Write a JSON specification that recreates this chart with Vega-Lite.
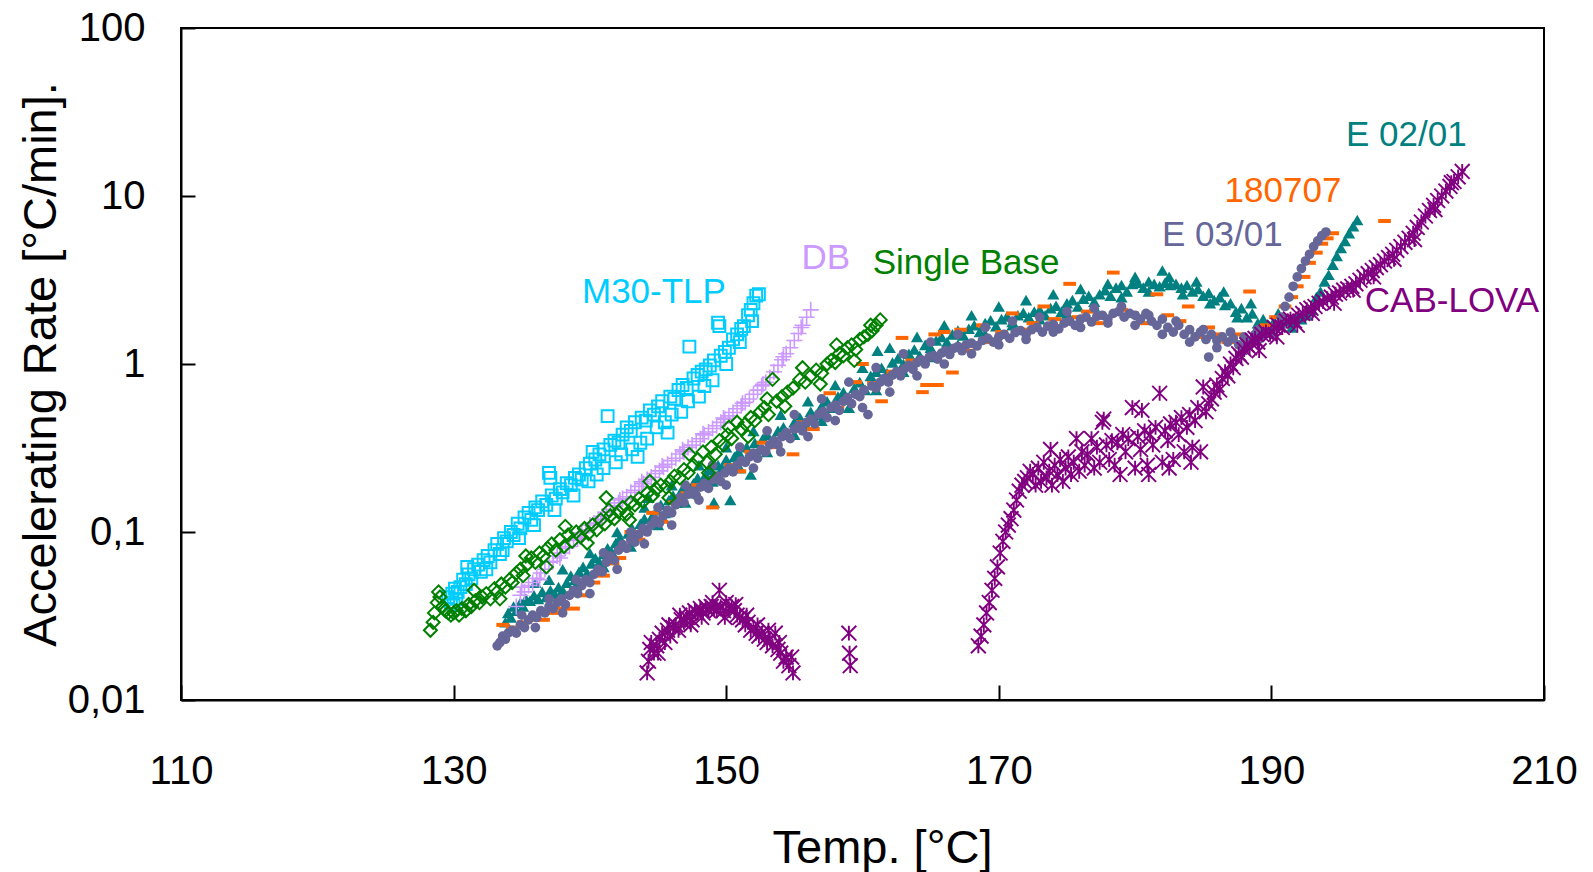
{
  "$schema": "https://vega.github.io/schema/vega-lite/v6.json",
  "width": 1363,
  "height": 672,
  "autosize": {"type": "none"},
  "padding": {"left": 181, "top": 28, "right": 49, "bottom": 172},
  "background": "white",
  "config": {
    "view": {"stroke": "black", "strokeWidth": 2},
    "font": "Liberation Sans",
    "axis": {"domainColor": "black", "domainWidth": 2, "tickColor": "black", "tickWidth": 2, "grid": false, "labelColor": "black", "titleColor": "black", "labelFont": "Liberation Sans", "titleFont": "Liberation Sans", "titleFontWeight": "normal"}
  },
  "datasets": {
    "m30": [
      {"t":129.6,"v":0.041},{"t":129.8,"v":0.038},{"t":130.0,"v":0.037},{"t":130.2,"v":0.040},{"t":130.3,"v":0.044},{"t":130.1,"v":0.046},{"t":129.9,"v":0.043},{"t":130.5,"v":0.047},{"t":130.7,"v":0.052},{"t":130.9,"v":0.049},{"t":131.1,"v":0.056},{"t":131.3,"v":0.053},{"t":131.5,"v":0.060},{"t":131.8,"v":0.064},{"t":132.0,"v":0.058},{"t":132.2,"v":0.068},{"t":132.5,"v":0.072},{"t":132.7,"v":0.066},{"t":133.0,"v":0.078},{"t":133.2,"v":0.085},{"t":133.4,"v":0.074},{"t":133.7,"v":0.092},{"t":133.9,"v":0.088},{"t":134.2,"v":0.100},{"t":134.4,"v":0.096},{"t":134.7,"v":0.112},{"t":134.9,"v":0.105},{"t":135.2,"v":0.122},{"t":135.5,"v":0.130},{"t":135.7,"v":0.118},{"t":136.0,"v":0.140},{"t":136.2,"v":0.135},{"t":136.5,"v":0.152},{"t":136.8,"v":0.145},{"t":137.0,"v":0.225},{"t":137.1,"v":0.210},{"t":137.2,"v":0.165},{"t":137.5,"v":0.158},{"t":137.8,"v":0.180},{"t":138.0,"v":0.172},{"t":138.3,"v":0.195},{"t":138.6,"v":0.190},{"t":138.9,"v":0.210},{"t":139.2,"v":0.220},{"t":139.4,"v":0.205},{"t":139.7,"v":0.240},{"t":140.0,"v":0.255},{"t":140.2,"v":0.300},{"t":140.4,"v":0.270},{"t":140.5,"v":0.220},{"t":140.7,"v":0.290},{"t":141.0,"v":0.310},{"t":141.3,"v":0.490},{"t":141.5,"v":0.330},{"t":141.8,"v":0.350},{"t":141.9,"v":0.260},{"t":142.1,"v":0.340},{"t":142.4,"v":0.380},{"t":142.7,"v":0.420},{"t":143.0,"v":0.400},{"t":143.1,"v":0.310},{"t":143.3,"v":0.450},{"t":143.5,"v":0.280},{"t":143.8,"v":0.480},{"t":144.1,"v":0.460},{"t":144.2,"v":0.360},{"t":144.4,"v":0.530},{"t":144.7,"v":0.500},{"t":145.0,"v":0.560},{"t":145.3,"v":0.600},{"t":145.5,"v":0.450},{"t":145.7,"v":0.390},{"t":145.9,"v":0.640},{"t":146.2,"v":0.620},{"t":146.5,"v":0.700},{"t":146.7,"v":0.520},{"t":146.8,"v":0.750},{"t":147.1,"v":0.720},{"t":147.3,"v":1.270},{"t":147.6,"v":0.820},{"t":147.9,"v":0.860},{"t":148.0,"v":0.640},{"t":148.2,"v":0.900},{"t":148.5,"v":0.930},{"t":148.8,"v":0.980},{"t":149.0,"v":0.800},{"t":149.1,"v":1.050},{"t":149.4,"v":1.760},{"t":149.5,"v":1.680},{"t":149.6,"v":1.120},{"t":149.9,"v":1.180},{"t":150.2,"v":1.250},{"t":150.5,"v":1.400},{"t":150.8,"v":1.500},{"t":151.1,"v":1.620},{"t":151.3,"v":1.680},{"t":151.6,"v":1.950},{"t":151.8,"v":2.100},{"t":152.0,"v":2.300},{"t":152.2,"v":2.550},{"t":152.4,"v":2.600},
      {"t":131.0,"v":0.062},{"t":132.4,"v":0.060},{"t":133.6,"v":0.078},{"t":134.8,"v":0.092},{"t":135.9,"v":0.110},{"t":137.4,"v":0.135},{"t":138.8,"v":0.165},{"t":139.9,"v":0.200},{"t":141.0,"v":0.240},{"t":142.3,"v":0.290},{"t":143.7,"v":0.340},{"t":144.9,"v":0.420},{"t":146.0,"v":0.500},{"t":147.2,"v":0.600},{"t":148.4,"v":0.740},{"t":150.0,"v":1.000},{"t":151.0,"v":1.350},{"t":151.9,"v":1.800}
    ],
    "db": [
      {"t":134.6,"v":0.036},{"t":134.9,"v":0.042},{"t":135.2,"v":0.044},{"t":135.5,"v":0.048},{"t":135.8,"v":0.050},{"t":136.1,"v":0.053},{"t":136.4,"v":0.057},{"t":136.7,"v":0.060},{"t":137.0,"v":0.066},{"t":137.3,"v":0.067},{"t":137.6,"v":0.072},{"t":137.9,"v":0.075},{"t":138.2,"v":0.080},{"t":138.5,"v":0.082},{"t":138.8,"v":0.089},{"t":139.1,"v":0.091},{"t":139.4,"v":0.099},{"t":139.7,"v":0.103},{"t":140.0,"v":0.110},{"t":140.3,"v":0.113},{"t":140.6,"v":0.119},{"t":140.9,"v":0.124},{"t":141.2,"v":0.131},{"t":141.5,"v":0.136},{"t":141.8,"v":0.143},{"t":142.1,"v":0.149},{"t":142.4,"v":0.158},{"t":142.7,"v":0.162},{"t":143.0,"v":0.172},{"t":143.3,"v":0.177},{"t":143.6,"v":0.187},{"t":143.9,"v":0.194},{"t":144.2,"v":0.205},{"t":144.5,"v":0.212},{"t":144.8,"v":0.223},{"t":145.1,"v":0.231},{"t":145.4,"v":0.243},{"t":145.7,"v":0.253},{"t":146.0,"v":0.266},{"t":146.3,"v":0.275},{"t":146.6,"v":0.291},{"t":146.9,"v":0.301},{"t":147.2,"v":0.319},{"t":147.5,"v":0.329},{"t":147.8,"v":0.346},{"t":148.1,"v":0.359},{"t":148.4,"v":0.378},{"t":148.7,"v":0.394},{"t":149.0,"v":0.413},{"t":149.3,"v":0.429},{"t":149.6,"v":0.449},{"t":149.9,"v":0.469},{"t":150.2,"v":0.491},{"t":150.5,"v":0.514},{"t":150.8,"v":0.541},{"t":151.1,"v":0.564},{"t":151.4,"v":0.591},{"t":151.7,"v":0.619},{"t":152.0,"v":0.661},{"t":152.3,"v":0.699},{"t":152.6,"v":0.741},{"t":152.9,"v":0.779},{"t":153.2,"v":0.831},{"t":153.5,"v":0.899},{"t":153.8,"v":0.981},{"t":154.1,"v":1.059},{"t":154.4,"v":1.151},{"t":154.7,"v":1.249},{"t":155.0,"v":1.381},{"t":155.3,"v":1.519},{"t":155.6,"v":1.701},{"t":155.9,"v":1.899},{"t":156.2,"v":2.100},
      {"t":135.0,"v":0.047},{"t":136.3,"v":0.052},{"t":137.8,"v":0.070},{"t":139.3,"v":0.093},{"t":140.8,"v":0.118},{"t":142.2,"v":0.155},{"t":143.8,"v":0.199},{"t":145.3,"v":0.247},{"t":146.8,"v":0.308},{"t":148.3,"v":0.384},{"t":149.8,"v":0.476},{"t":151.2,"v":0.584},{"t":152.7,"v":0.758},{"t":154.2,"v":1.105},{"t":155.5,"v":1.650}
    ],
    "sb": [
      {"t":128.3,"v":0.026},{"t":128.5,"v":0.029},{"t":128.6,"v":0.033},{"t":128.8,"v":0.038},{"t":128.9,"v":0.044},{"t":129.0,"v":0.041},{"t":129.2,"v":0.036},{"t":129.4,"v":0.034},{"t":129.6,"v":0.033},{"t":129.8,"v":0.032},{"t":130.0,"v":0.033},{"t":130.2,"v":0.034},{"t":130.4,"v":0.032},{"t":130.6,"v":0.035},{"t":130.9,"v":0.034},{"t":131.1,"v":0.037},{"t":131.3,"v":0.036},{"t":131.6,"v":0.039},{"t":131.9,"v":0.038},{"t":132.1,"v":0.041},{"t":132.4,"v":0.043},{"t":132.7,"v":0.040},{"t":133.0,"v":0.046},{"t":133.2,"v":0.044},{"t":133.5,"v":0.049},{"t":133.8,"v":0.047},{"t":134.1,"v":0.052},{"t":134.3,"v":0.050},{"t":134.6,"v":0.057},{"t":134.9,"v":0.060},{"t":135.1,"v":0.055},{"t":135.4,"v":0.064},{"t":135.7,"v":0.070},{"t":136.0,"v":0.066},{"t":136.3,"v":0.075},{"t":136.6,"v":0.072},{"t":136.9,"v":0.080},{"t":137.2,"v":0.085},{"t":137.5,"v":0.078},{"t":137.8,"v":0.090},{"t":138.1,"v":0.082},{"t":138.4,"v":0.096},{"t":138.7,"v":0.088},{"t":139.0,"v":0.100},{"t":139.3,"v":0.094},{"t":139.6,"v":0.105},{"t":139.9,"v":0.098},{"t":140.2,"v":0.110},{"t":140.5,"v":0.103},{"t":140.8,"v":0.118},{"t":141.1,"v":0.112},{"t":141.2,"v":0.160},{"t":141.5,"v":0.125},{"t":141.8,"v":0.120},{"t":142.1,"v":0.132},{"t":142.4,"v":0.140},{"t":142.7,"v":0.128},{"t":143.0,"v":0.150},{"t":143.3,"v":0.145},{"t":143.6,"v":0.158},{"t":143.9,"v":0.152},{"t":144.2,"v":0.170},{"t":144.6,"v":0.165},{"t":144.9,"v":0.180},{"t":145.2,"v":0.190},{"t":145.6,"v":0.185},{"t":145.9,"v":0.200},{"t":146.2,"v":0.215},{"t":146.6,"v":0.210},{"t":146.9,"v":0.235},{"t":147.2,"v":0.225},{"t":147.6,"v":0.250},{"t":147.9,"v":0.270},{"t":148.3,"v":0.300},{"t":148.6,"v":0.260},{"t":148.9,"v":0.320},{"t":149.2,"v":0.290},{"t":149.5,"v":0.350},{"t":149.8,"v":0.330},{"t":150.1,"v":0.380},{"t":150.4,"v":0.360},{"t":150.8,"v":0.450},{"t":151.1,"v":0.410},{"t":151.4,"v":0.440},{"t":151.8,"v":0.480},{"t":152.1,"v":0.460},{"t":152.5,"v":0.520},{"t":152.8,"v":0.550},{"t":153.1,"v":0.500},{"t":153.4,"v":0.810},{"t":153.7,"v":0.600},{"t":154.1,"v":0.640},{"t":154.5,"v":0.680},{"t":154.9,"v":0.720},{"t":155.4,"v":0.810},{"t":155.8,"v":0.780},{"t":156.2,"v":0.850},{"t":156.6,"v":0.920},{"t":157.0,"v":0.880},{"t":157.4,"v":1.000},{"t":157.7,"v":1.050},{"t":158.0,"v":1.020},{"t":158.3,"v":1.150},{"t":158.6,"v":1.120},{"t":158.9,"v":1.250},{"t":159.2,"v":1.300},{"t":159.5,"v":1.220},{"t":159.8,"v":1.400},{"t":160.1,"v":1.450},{"t":160.4,"v":1.500},{"t":160.7,"v":1.580},{"t":161.0,"v":1.700},{"t":161.3,"v":1.830},
      {"t":131.5,"v":0.045},{"t":133.4,"v":0.040},{"t":135.3,"v":0.072},{"t":136.8,"v":0.062},{"t":138.2,"v":0.108},{"t":139.8,"v":0.086},{"t":141.4,"v":0.135},{"t":142.9,"v":0.118},{"t":144.4,"v":0.200},{"t":145.8,"v":0.160},{"t":147.3,"v":0.290},{"t":148.7,"v":0.225},{"t":150.2,"v":0.420},{"t":151.6,"v":0.370},{"t":153.0,"v":0.620},{"t":154.3,"v":0.560},{"t":155.6,"v":0.950},{"t":156.9,"v":0.760},{"t":158.1,"v":1.300},{"t":159.4,"v":1.050},{"t":160.6,"v":1.700}
    ],
    "e0201": [
      {"t":133.8,"v":0.029},{"t":134.0,"v":0.033},{"t":134.2,"v":0.031},{"t":134.4,"v":0.036},{"t":134.6,"v":0.034},{"t":134.9,"v":0.038},{"t":135.1,"v":0.036},{"t":135.3,"v":0.040},{"t":135.6,"v":0.039},{"t":135.9,"v":0.042},{"t":136.2,"v":0.040},{"t":136.5,"v":0.044},{"t":136.8,"v":0.041},{"t":137.1,"v":0.045},{"t":137.4,"v":0.043},{"t":137.7,"v":0.047},{"t":138.0,"v":0.045},{"t":138.3,"v":0.050},{"t":138.6,"v":0.055},{"t":138.9,"v":0.052},{"t":139.2,"v":0.058},{"t":139.5,"v":0.062},{"t":139.8,"v":0.057},{"t":140.1,"v":0.065},{"t":140.4,"v":0.070},{"t":140.7,"v":0.066},{"t":141.0,"v":0.074},{"t":141.3,"v":0.080},{"t":141.6,"v":0.076},{"t":141.9,"v":0.086},{"t":142.2,"v":0.092},{"t":142.5,"v":0.083},{"t":142.8,"v":0.098},{"t":143.1,"v":0.105},{"t":143.4,"v":0.095},{"t":143.7,"v":0.112},{"t":144.0,"v":0.120},{"t":144.3,"v":0.160},{"t":144.6,"v":0.125},{"t":144.9,"v":0.135},{"t":145.2,"v":0.145},{"t":145.5,"v":0.130},{"t":145.8,"v":0.155},{"t":146.1,"v":0.165},{"t":146.4,"v":0.150},{"t":146.7,"v":0.175},{"t":147.0,"v":0.185},{"t":147.3,"v":0.170},{"t":147.6,"v":0.195},{"t":147.9,"v":0.210},{"t":148.2,"v":0.190},{"t":148.5,"v":0.220},{"t":148.8,"v":0.235},{"t":149.1,"v":0.150},{"t":149.4,"v":0.250},{"t":149.7,"v":0.240},{"t":150.0,"v":0.270},{"t":150.3,"v":0.155},{"t":150.6,"v":0.280},{"t":150.9,"v":0.300},{"t":151.2,"v":0.270},{"t":151.5,"v":0.320},{"t":151.8,"v":0.220},{"t":152.1,"v":0.340},{"t":152.4,"v":0.310},{"t":152.7,"v":0.360},{"t":153.0,"v":0.380},{"t":153.4,"v":0.340},{"t":153.8,"v":0.400},{"t":154.2,"v":0.420},{"t":154.6,"v":0.380},{"t":155.0,"v":0.450},{"t":155.4,"v":0.480},{"t":155.8,"v":0.440},{"t":156.2,"v":0.520},{"t":156.6,"v":0.500},{"t":157.0,"v":0.560},{"t":157.4,"v":0.600},{"t":157.8,"v":0.550},{"t":158.2,"v":0.640},{"t":158.6,"v":0.680},{"t":159.0,"v":0.620},{"t":159.4,"v":0.720},{"t":159.8,"v":0.780},{"t":160.2,"v":0.700},{"t":160.6,"v":0.850},{"t":161.0,"v":0.900},{"t":161.1,"v":1.200},{"t":161.4,"v":0.950},{"t":161.8,"v":0.880},{"t":162.2,"v":1.020},{"t":162.6,"v":1.080},{"t":163.0,"v":1.000},{"t":163.4,"v":1.150},{"t":163.8,"v":1.220},{"t":164.2,"v":1.120},{"t":164.6,"v":1.300},{"t":165.0,"v":1.250},{"t":165.4,"v":1.380},{"t":165.8,"v":1.450},{"t":166.2,"v":1.350},{"t":166.6,"v":1.500},{"t":167.0,"v":1.580},{"t":167.4,"v":1.480},{"t":167.8,"v":1.620},{"t":168.2,"v":1.700},{"t":168.6,"v":1.550},{"t":169.0,"v":1.750},{"t":169.4,"v":1.820},{"t":169.8,"v":1.680},{"t":170.2,"v":1.850},{"t":170.6,"v":1.920},{"t":171.0,"v":1.780},{"t":171.4,"v":1.950},{"t":171.8,"v":2.020},{"t":172.2,"v":1.900},{"t":172.6,"v":2.050},{"t":173.0,"v":2.100},{"t":173.4,"v":1.950},{"t":173.8,"v":2.150},{"t":174.2,"v":2.220},{"t":174.6,"v":2.050},{"t":175.0,"v":2.300},{"t":175.4,"v":2.400},{"t":175.8,"v":2.200},{"t":176.2,"v":2.450},{"t":176.6,"v":2.550},{"t":177.0,"v":2.350},{"t":177.4,"v":2.600},{"t":177.8,"v":2.750},{"t":178.2,"v":2.550},{"t":178.6,"v":2.850},{"t":179.0,"v":2.950},{"t":179.4,"v":2.700},{"t":179.8,"v":3.000},{"t":180.2,"v":3.050},{"t":180.6,"v":2.850},{"t":181.0,"v":3.100},{"t":181.4,"v":3.000},{"t":181.8,"v":2.900},{"t":182.0,"v":3.600},{"t":182.2,"v":3.050},{"t":182.6,"v":2.950},{"t":183.0,"v":3.000},{"t":183.4,"v":2.850},{"t":183.8,"v":2.950},{"t":184.2,"v":2.700},{"t":184.6,"v":2.800},{"t":185.0,"v":2.550},{"t":185.4,"v":2.650},{"t":185.8,"v":2.400},{"t":186.2,"v":2.500},{"t":186.6,"v":2.250},{"t":187.0,"v":2.300},{"t":187.4,"v":2.050},{"t":187.8,"v":2.150},{"t":188.2,"v":1.900},{"t":188.6,"v":2.000},{"t":189.0,"v":1.750},{"t":189.4,"v":1.850},{"t":189.8,"v":1.700},{"t":190.2,"v":1.800},{"t":190.6,"v":1.750},{"t":191.0,"v":1.850},{"t":191.4,"v":1.800},{"t":191.8,"v":1.900},{"t":192.2,"v":1.850},{"t":192.6,"v":1.950},{"t":193.0,"v":2.100},{"t":193.3,"v":2.500},{"t":193.6,"v":2.700},{"t":193.9,"v":3.100},{"t":194.2,"v":3.400},{"t":194.5,"v":3.900},{"t":194.8,"v":4.400},{"t":195.1,"v":4.900},{"t":195.4,"v":5.400},{"t":195.7,"v":6.000},{"t":196.0,"v":6.600},{"t":196.3,"v":7.200},
      {"t":136.0,"v":0.050},{"t":137.0,"v":0.052},{"t":138.0,"v":0.060},{"t":139.0,"v":0.048},{"t":140.0,"v":0.075},{"t":141.0,"v":0.062},{"t":142.0,"v":0.100},{"t":143.0,"v":0.082},{"t":144.0,"v":0.140},{"t":145.0,"v":0.110},{"t":146.0,"v":0.190},{"t":147.0,"v":0.150},{"t":148.0,"v":0.250},{"t":149.0,"v":0.200},{"t":150.0,"v":0.320},{"t":151.0,"v":0.240},{"t":152.0,"v":0.400},{"t":153.0,"v":0.300},{"t":154.0,"v":0.500},{"t":155.0,"v":0.380},{"t":156.0,"v":0.600},{"t":157.0,"v":0.460},{"t":158.0,"v":0.750},{"t":159.0,"v":0.550},{"t":160.0,"v":0.950},{"t":161.0,"v":0.700},{"t":162.0,"v":1.250},{"t":163.0,"v":0.900},{"t":164.0,"v":1.450},{"t":165.0,"v":1.100},{"t":166.0,"v":1.700},{"t":167.0,"v":1.300},{"t":168.0,"v":1.950},{"t":169.0,"v":1.500},{"t":170.0,"v":2.200},{"t":171.0,"v":1.700},{"t":172.0,"v":2.400},{"t":173.0,"v":1.850},{"t":174.0,"v":2.600},{"t":175.0,"v":2.000},{"t":176.0,"v":2.800},{"t":177.0,"v":2.200},{"t":178.0,"v":3.000},{"t":179.0,"v":2.500},{"t":180.0,"v":3.300},{"t":181.0,"v":2.700},{"t":182.5,"v":3.300},{"t":183.5,"v":2.600},{"t":184.5,"v":3.100},{"t":185.5,"v":2.300},{"t":186.5,"v":2.700},{"t":187.5,"v":1.900},{"t":188.5,"v":2.300},{"t":189.5,"v":1.600},{"t":190.5,"v":2.000},{"t":191.5,"v":1.650}
    ],
    "o180707": [
      {"t":133.6,"v":0.028},{"t":134.3,"v":0.027},{"t":135.1,"v":0.029},{"t":135.8,"v":0.030},{"t":136.6,"v":0.030},{"t":137.4,"v":0.033},{"t":138.0,"v":0.035},{"t":138.8,"v":0.035},{"t":139.5,"v":0.042},{"t":140.3,"v":0.050},{"t":141.0,"v":0.055},{"t":141.7,"v":0.065},{"t":142.2,"v":0.070},{"t":143.0,"v":0.100},{"t":143.6,"v":0.090},{"t":144.6,"v":0.130},{"t":145.3,"v":0.115},{"t":146.2,"v":0.150},{"t":147.1,"v":0.170},{"t":147.9,"v":0.190},{"t":149.0,"v":0.140},{"t":149.6,"v":0.220},{"t":150.3,"v":0.250},{"t":151.0,"v":0.230},{"t":151.8,"v":0.300},{"t":152.7,"v":0.340},{"t":153.5,"v":0.320},{"t":154.3,"v":0.380},{"t":154.9,"v":0.290},{"t":155.6,"v":0.450},{"t":156.4,"v":0.410},{"t":157.0,"v":0.500},{"t":157.6,"v":0.670},{"t":158.2,"v":0.550},{"t":158.9,"v":0.600},{"t":159.5,"v":0.780},{"t":160.0,"v":1.000},{"t":160.8,"v":0.770},{"t":161.4,"v":0.600},{"t":162.2,"v":0.900},{"t":162.9,"v":1.430},{"t":163.6,"v":1.050},{"t":164.4,"v":0.680},{"t":164.7,"v":0.750},{"t":165.3,"v":1.500},{"t":165.5,"v":0.750},{"t":166.0,"v":1.550},{"t":166.6,"v":0.890},{"t":167.2,"v":1.600},{"t":167.8,"v":1.200},{"t":168.8,"v":1.700},{"t":169.5,"v":1.350},{"t":170.2,"v":1.550},{"t":171.0,"v":2.000},{"t":171.8,"v":1.600},{"t":172.5,"v":1.750},{"t":173.3,"v":2.200},{"t":174.1,"v":1.850},{"t":175.2,"v":3.000},{"t":175.8,"v":1.900},{"t":176.5,"v":2.050},{"t":177.2,"v":1.750},{"t":178.4,"v":3.500},{"t":179.0,"v":2.100},{"t":179.8,"v":2.000},{"t":180.6,"v":1.750},{"t":181.6,"v":2.600},{"t":182.4,"v":1.950},{"t":182.6,"v":1.600},{"t":183.3,"v":1.800},{"t":183.9,"v":2.200},{"t":184.6,"v":1.450},{"t":185.4,"v":1.650},{"t":186.0,"v":1.500},{"t":186.8,"v":1.350},{"t":187.5,"v":1.500},{"t":188.4,"v":2.700},{"t":188.9,"v":1.450},{"t":189.6,"v":1.700},{"t":190.3,"v":1.900},{"t":191.0,"v":2.200},{"t":191.5,"v":2.500},{"t":191.9,"v":2.900},{"t":192.4,"v":3.300},{"t":192.8,"v":4.000},{"t":193.3,"v":4.600},{"t":193.7,"v":5.200},{"t":194.1,"v":5.600},{"t":194.5,"v":6.000},{"t":198.3,"v":7.100}
    ],
    "e0301": [
      {"t":133.2,"v":0.021},{"t":133.4,"v":0.022},{"t":133.6,"v":0.024},{"t":133.8,"v":0.023},{"t":134.0,"v":0.025},{"t":134.3,"v":0.026},{"t":134.6,"v":0.025},{"t":134.9,"v":0.028},{"t":135.2,"v":0.027},{"t":135.5,"v":0.030},{"t":135.8,"v":0.032},{"t":136.1,"v":0.031},{"t":136.4,"v":0.034},{"t":136.7,"v":0.033},{"t":137.0,"v":0.036},{"t":137.3,"v":0.035},{"t":137.6,"v":0.038},{"t":137.9,"v":0.040},{"t":138.2,"v":0.037},{"t":138.5,"v":0.042},{"t":138.8,"v":0.045},{"t":139.1,"v":0.043},{"t":139.4,"v":0.048},{"t":139.7,"v":0.052},{"t":140.0,"v":0.050},{"t":140.3,"v":0.056},{"t":140.6,"v":0.060},{"t":140.9,"v":0.058},{"t":141.2,"v":0.066},{"t":141.5,"v":0.072},{"t":141.8,"v":0.068},{"t":142.1,"v":0.078},{"t":142.4,"v":0.084},{"t":142.7,"v":0.080},{"t":143.0,"v":0.090},{"t":143.3,"v":0.087},{"t":143.6,"v":0.097},{"t":143.9,"v":0.105},{"t":144.2,"v":0.100},{"t":144.5,"v":0.110},{"t":144.8,"v":0.118},{"t":145.1,"v":0.113},{"t":145.4,"v":0.125},{"t":145.7,"v":0.135},{"t":146.0,"v":0.130},{"t":146.3,"v":0.145},{"t":146.6,"v":0.160},{"t":146.9,"v":0.150},{"t":147.2,"v":0.168},{"t":147.5,"v":0.175},{"t":147.8,"v":0.165},{"t":148.1,"v":0.185},{"t":148.4,"v":0.195},{"t":148.7,"v":0.182},{"t":149.0,"v":0.205},{"t":149.3,"v":0.215},{"t":149.6,"v":0.200},{"t":149.9,"v":0.225},{"t":150.2,"v":0.240},{"t":150.5,"v":0.228},{"t":150.8,"v":0.250},{"t":151.1,"v":0.265},{"t":151.4,"v":0.260},{"t":151.7,"v":0.280},{"t":152.0,"v":0.295},{"t":152.3,"v":0.275},{"t":152.6,"v":0.310},{"t":152.9,"v":0.300},{"t":153.2,"v":0.330},{"t":153.5,"v":0.350},{"t":153.8,"v":0.330},{"t":154.1,"v":0.370},{"t":154.4,"v":0.390},{"t":154.7,"v":0.360},{"t":155.0,"v":0.410},{"t":155.3,"v":0.430},{"t":155.6,"v":0.400},{"t":155.9,"v":0.450},{"t":156.2,"v":0.470},{"t":156.5,"v":0.440},{"t":156.8,"v":0.500},{"t":157.1,"v":0.520},{"t":157.4,"v":0.480},{"t":157.7,"v":0.550},{"t":158.0,"v":0.570},{"t":158.3,"v":0.530},{"t":158.6,"v":0.600},{"t":158.9,"v":0.630},{"t":159.2,"v":0.580},{"t":159.5,"v":0.660},{"t":159.8,"v":0.640},{"t":160.1,"v":0.700},{"t":160.4,"v":0.500},{"t":160.7,"v":0.740},{"t":161.0,"v":0.720},{"t":161.3,"v":0.780},{"t":161.6,"v":0.820},{"t":161.9,"v":0.780},{"t":162.2,"v":0.860},{"t":162.5,"v":0.900},{"t":162.8,"v":0.850},{"t":163.1,"v":0.940},{"t":163.4,"v":0.980},{"t":163.7,"v":0.930},{"t":164.0,"v":1.020},{"t":164.3,"v":1.060},{"t":164.6,"v":1.000},{"t":164.9,"v":1.100},{"t":165.2,"v":1.120},{"t":165.5,"v":1.070},{"t":165.8,"v":1.160},{"t":166.1,"v":1.200},{"t":166.4,"v":1.140},{"t":166.7,"v":1.240},{"t":167.0,"v":1.270},{"t":167.3,"v":1.200},{"t":167.6,"v":1.300},{"t":168.0,"v":1.330},{"t":168.4,"v":1.280},{"t":168.8,"v":1.380},{"t":169.2,"v":1.420},{"t":169.6,"v":1.350},{"t":170.0,"v":1.450},{"t":170.4,"v":1.500},{"t":170.8,"v":1.420},{"t":171.2,"v":1.540},{"t":171.6,"v":1.580},{"t":172.0,"v":1.500},{"t":172.4,"v":1.600},{"t":172.8,"v":1.650},{"t":173.2,"v":1.550},{"t":173.6,"v":1.680},{"t":174.0,"v":1.720},{"t":174.4,"v":1.620},{"t":174.8,"v":1.750},{"t":175.2,"v":1.800},{"t":175.6,"v":1.700},{"t":176.0,"v":1.850},{"t":176.4,"v":1.900},{"t":176.8,"v":1.780},{"t":177.2,"v":1.920},{"t":177.6,"v":1.950},{"t":178.0,"v":1.850},{"t":178.4,"v":2.000},{"t":178.8,"v":2.050},{"t":179.2,"v":1.900},{"t":179.6,"v":2.000},{"t":180.0,"v":1.950},{"t":180.4,"v":1.850},{"t":180.8,"v":2.000},{"t":181.2,"v":1.800},{"t":181.6,"v":1.700},{"t":182.0,"v":1.850},{"t":182.4,"v":1.650},{"t":182.8,"v":1.550},{"t":183.2,"v":1.700},{"t":183.6,"v":1.500},{"t":184.0,"v":1.600},{"t":184.4,"v":1.450},{"t":184.8,"v":1.550},{"t":185.2,"v":1.400},{"t":185.4,"v":1.100},{"t":185.6,"v":1.500},{"t":186.0,"v":1.380},{"t":186.4,"v":1.450},{"t":186.8,"v":1.350},{"t":187.2,"v":1.420},{"t":187.6,"v":1.300},{"t":188.0,"v":1.450},{"t":188.4,"v":1.380},{"t":188.8,"v":1.500},{"t":189.2,"v":1.420},{"t":189.6,"v":1.550},{"t":190.0,"v":1.500},{"t":190.4,"v":1.650},{"t":190.7,"v":1.900},{"t":191.0,"v":2.200},{"t":191.3,"v":2.500},{"t":191.6,"v":2.900},{"t":191.9,"v":3.300},{"t":192.2,"v":3.700},{"t":192.5,"v":4.100},{"t":192.8,"v":4.500},{"t":193.1,"v":5.000},{"t":193.4,"v":5.400},{"t":193.7,"v":5.800},{"t":194.0,"v":6.100},
      {"t":135.0,"v":0.032},{"t":136.0,"v":0.027},{"t":137.0,"v":0.040},{"t":138.0,"v":0.033},{"t":139.0,"v":0.052},{"t":140.0,"v":0.043},{"t":141.0,"v":0.075},{"t":142.0,"v":0.060},{"t":143.0,"v":0.100},{"t":144.0,"v":0.085},{"t":145.0,"v":0.140},{"t":146.0,"v":0.110},{"t":147.0,"v":0.190},{"t":148.0,"v":0.155},{"t":149.0,"v":0.250},{"t":150.0,"v":0.190},{"t":151.0,"v":0.320},{"t":152.0,"v":0.240},{"t":153.0,"v":0.400},{"t":154.0,"v":0.300},{"t":155.0,"v":0.500},{"t":156.0,"v":0.370},{"t":157.0,"v":0.620},{"t":158.0,"v":0.460},{"t":159.0,"v":0.780},{"t":160.0,"v":0.550},{"t":161.0,"v":0.950},{"t":162.0,"v":0.680},{"t":163.0,"v":1.150},{"t":164.0,"v":0.850},{"t":165.0,"v":1.350},{"t":166.0,"v":1.000},{"t":167.0,"v":1.500},{"t":168.0,"v":1.150},{"t":169.0,"v":1.650},{"t":170.0,"v":1.300},{"t":171.0,"v":1.800},{"t":172.0,"v":1.400},{"t":173.0,"v":1.900},{"t":174.0,"v":1.550},{"t":175.0,"v":2.050},{"t":176.0,"v":1.650},{"t":177.0,"v":2.150},{"t":178.0,"v":1.750},{"t":179.0,"v":2.200},{"t":180.0,"v":1.700},{"t":181.0,"v":1.950},{"t":182.0,"v":1.500},{"t":183.0,"v":1.800},{"t":184.0,"v":1.350},{"t":185.0,"v":1.600},{"t":186.0,"v":1.250},{"t":187.0,"v":1.550},{"t":188.0,"v":1.200},{"t":189.0,"v":1.600}
    ],
    "cab": [
      {"t":144.2,"v":0.0145},{"t":144.3,"v":0.017},{"t":144.4,"v":0.020},{"t":144.5,"v":0.022},{"t":144.7,"v":0.019},{"t":144.9,"v":0.021},{"t":145.0,"v":0.019},{"t":145.1,"v":0.023},{"t":145.3,"v":0.025},{"t":145.5,"v":0.022},{"t":145.7,"v":0.026},{"t":145.8,"v":0.028},{"t":145.9,"v":0.024},{"t":146.1,"v":0.027},{"t":146.3,"v":0.028},{"t":146.5,"v":0.026},{"t":146.6,"v":0.032},{"t":146.7,"v":0.030},{"t":146.9,"v":0.029},{"t":147.1,"v":0.031},{"t":147.3,"v":0.033},{"t":147.4,"v":0.028},{"t":147.5,"v":0.030},{"t":147.7,"v":0.034},{"t":147.9,"v":0.033},{"t":148.1,"v":0.035},{"t":148.2,"v":0.031},{"t":148.3,"v":0.033},{"t":148.5,"v":0.036},{"t":148.7,"v":0.034},{"t":148.9,"v":0.036},{"t":149.0,"v":0.038},{"t":149.1,"v":0.035},{"t":149.3,"v":0.034},{"t":149.5,"v":0.045},{"t":149.6,"v":0.036},{"t":149.8,"v":0.034},{"t":149.9,"v":0.031},{"t":150.0,"v":0.038},{"t":150.2,"v":0.035},{"t":150.4,"v":0.036},{"t":150.6,"v":0.034},{"t":150.7,"v":0.037},{"t":150.8,"v":0.032},{"t":151.0,"v":0.031},{"t":151.2,"v":0.030},{"t":151.4,"v":0.028},{"t":151.5,"v":0.032},{"t":151.6,"v":0.029},{"t":151.8,"v":0.026},{"t":152.0,"v":0.027},{"t":152.2,"v":0.025},{"t":152.3,"v":0.028},{"t":152.4,"v":0.024},{"t":152.6,"v":0.025},{"t":152.8,"v":0.023},{"t":153.0,"v":0.022},{"t":153.1,"v":0.026},{"t":153.2,"v":0.023},{"t":153.4,"v":0.021},{"t":153.6,"v":0.025},{"t":153.8,"v":0.020},{"t":153.9,"v":0.022},{"t":154.0,"v":0.019},{"t":154.2,"v":0.017},{"t":154.4,"v":0.018},{"t":154.6,"v":0.016},{"t":154.8,"v":0.018},{"t":154.9,"v":0.0145},
      {"t":159.0,"v":0.025},{"t":159.05,"v":0.019},{"t":159.1,"v":0.016},
      {"t":168.5,"v":0.021},{"t":168.7,"v":0.024},{"t":168.9,"v":0.028},{"t":169.1,"v":0.033},{"t":169.3,"v":0.038},{"t":169.5,"v":0.045},{"t":169.7,"v":0.053},{"t":169.9,"v":0.062},{"t":170.1,"v":0.075},{"t":170.3,"v":0.088},{"t":170.5,"v":0.100},{"t":170.7,"v":0.110},{"t":170.9,"v":0.120},{"t":171.1,"v":0.135},{"t":171.3,"v":0.155},{"t":171.5,"v":0.175},{"t":171.7,"v":0.190},{"t":171.9,"v":0.200},{"t":172.1,"v":0.210},{"t":172.3,"v":0.230},{"t":172.5,"v":0.220},{"t":172.7,"v":0.190},{"t":172.9,"v":0.240},{"t":173.1,"v":0.200},{"t":173.3,"v":0.260},{"t":173.5,"v":0.210},{"t":173.7,"v":0.230},{"t":173.8,"v":0.310},{"t":173.9,"v":0.190},{"t":174.1,"v":0.250},{"t":174.3,"v":0.220},{"t":174.5,"v":0.270},{"t":174.7,"v":0.200},{"t":174.9,"v":0.240},{"t":175.1,"v":0.280},{"t":175.3,"v":0.220},{"t":175.5,"v":0.260},{"t":175.7,"v":0.360},{"t":175.9,"v":0.230},{"t":176.1,"v":0.300},{"t":176.3,"v":0.250},{"t":176.5,"v":0.290},{"t":176.8,"v":0.360},{"t":177.0,"v":0.240},{"t":177.2,"v":0.320},{"t":177.4,"v":0.260},{"t":177.6,"v":0.450},{"t":177.7,"v":0.470},{"t":177.9,"v":0.330},{"t":178.1,"v":0.270},{"t":178.3,"v":0.350},{"t":178.5,"v":0.250},{"t":178.7,"v":0.340},{"t":178.9,"v":0.220},{"t":179.1,"v":0.380},{"t":179.3,"v":0.300},{"t":179.5,"v":0.360},{"t":179.8,"v":0.550},{"t":180.0,"v":0.240},{"t":180.2,"v":0.370},{"t":180.4,"v":0.310},{"t":180.5,"v":0.530},{"t":180.7,"v":0.400},{"t":180.9,"v":0.250},{"t":181.0,"v":0.220},{"t":181.1,"v":0.380},{"t":181.3,"v":0.330},{"t":181.5,"v":0.420},{"t":181.8,"v":0.670},{"t":182.0,"v":0.260},{"t":182.2,"v":0.400},{"t":182.4,"v":0.350},{"t":182.5,"v":0.240},{"t":182.6,"v":0.440},{"t":182.8,"v":0.270},{"t":183.0,"v":0.450},{"t":183.2,"v":0.380},{"t":183.4,"v":0.480},{"t":183.6,"v":0.300},{"t":183.8,"v":0.420},{"t":184.0,"v":0.500},{"t":184.1,"v":0.260},{"t":184.2,"v":0.320},{"t":184.4,"v":0.460},{"t":184.6,"v":0.550},{"t":184.8,"v":0.300},{"t":185.0,"v":0.730},{"t":185.2,"v":0.520},{"t":185.4,"v":0.580},{"t":185.6,"v":0.620},{"t":185.8,"v":0.680},{"t":186.0,"v":0.750},{"t":186.2,"v":0.700},{"t":186.4,"v":0.820},{"t":186.6,"v":0.900},{"t":186.8,"v":0.850},{"t":187.0,"v":1.000},{"t":187.2,"v":0.950},{"t":187.4,"v":1.080},{"t":187.6,"v":1.150},{"t":187.8,"v":1.100},{"t":188.0,"v":1.220},{"t":188.2,"v":1.300},{"t":188.4,"v":1.250},{"t":188.6,"v":1.380},{"t":188.8,"v":1.420},{"t":189.0,"v":1.350},{"t":189.3,"v":1.500},{"t":189.6,"v":1.550},{"t":189.9,"v":1.500},{"t":190.2,"v":1.650},{"t":190.5,"v":1.700},{"t":190.8,"v":1.650},{"t":191.1,"v":1.800},{"t":191.4,"v":1.850},{"t":191.7,"v":1.800},{"t":192.0,"v":1.950},{"t":192.3,"v":2.000},{"t":192.6,"v":2.100},{"t":192.9,"v":2.150},{"t":193.2,"v":2.200},{"t":193.5,"v":2.300},{"t":193.8,"v":2.350},{"t":194.1,"v":2.450},{"t":194.4,"v":2.500},{"t":194.7,"v":2.600},{"t":195.0,"v":2.650},{"t":195.3,"v":2.750},{"t":195.6,"v":2.800},{"t":195.9,"v":2.900},{"t":196.2,"v":3.000},{"t":196.5,"v":3.150},{"t":196.8,"v":3.300},{"t":197.1,"v":3.450},{"t":197.4,"v":3.600},{"t":197.7,"v":3.750},{"t":198.0,"v":3.900},{"t":198.3,"v":4.100},{"t":198.6,"v":4.300},{"t":198.9,"v":4.500},{"t":199.2,"v":4.750},{"t":199.5,"v":5.000},{"t":199.8,"v":5.300},{"t":200.1,"v":5.600},{"t":200.4,"v":6.000},{"t":200.7,"v":6.500},{"t":201.0,"v":7.000},{"t":201.3,"v":7.600},{"t":201.6,"v":8.200},{"t":201.9,"v":8.800},{"t":202.2,"v":9.400},{"t":202.5,"v":10.000},{"t":202.8,"v":10.700},{"t":203.1,"v":11.400},{"t":203.4,"v":12.200},{"t":203.7,"v":13.000},{"t":204.0,"v":14.000},
      {"t":189.1,"v":1.200},{"t":190.4,"v":1.450},{"t":191.9,"v":1.700},{"t":193.0,"v":2.000},{"t":194.6,"v":2.300},{"t":196.0,"v":2.750},{"t":197.5,"v":3.300},{"t":199.0,"v":4.200},{"t":200.5,"v":5.500},{"t":202.0,"v":8.300},{"t":203.2,"v":12.000}
    ],
    "labels": [
      {"t":144.7,"v":2.70,"label":"M30-TLP","c":"#00CCFF"},
      {"t":157.3,"v":4.27,"label":"DB","c":"#CC99FF"},
      {"t":167.6,"v":3.99,"label":"Single Base","c":"#008000"},
      {"t":186.4,"v":5.89,"label":"E 03/01","c":"#666699"},
      {"t":190.85,"v":10.7,"label":"180707","c":"#FF6600"},
      {"t":199.9,"v":23.1,"label":"E 02/01","c":"#008080"},
      {"t":203.25,"v":2.38,"label":"CAB-LOVA","c":"#800080"}
    ]
  },
  "encoding": {
    "x": {"field": "t", "type": "quantitative", "scale": {"domain": [110, 210], "nice": false, "zero": false},
      "axis": {"title": "Temp. [°C]", "values": [110, 130, 150, 170, 190, 210], "format": "d", "tickSize": -15, "labelPadding": 66, "labelFontSize": 40, "labelFlush": false, "labelOverlap": false, "titleFontSize": 47, "titleX": 701, "titleY": 162, "titleBaseline": "alphabetic", "titleAlign": "center", "titleAnchor": null}},
    "y": {"field": "v", "type": "quantitative", "scale": {"type": "log", "domain": [0.01, 100], "nice": false},
      "axis": {"title": "Accelerating Rate  [°C/min].", "values": [0.01, 0.1, 1, 10, 100], "labelExpr": "datum.value >= 1 ? format(datum.value, 'd') : replace(format(datum.value, '.2~f'), '.', ',')", "tickSize": -14, "labelPadding": 50, "labelFontSize": 40, "labelFlush": false, "labelOverlap": false, "titleFont": "Liberation Sans", "titleFontSize": 47, "titleAngle": -90, "titleX": -126, "titleY": 336, "titleBaseline": "alphabetic", "titleAlign": "center", "titleAnchor": null}}
  },
  "layer": [
    {"data": {"name": "e0201"}, "mark": {"type": "point", "shape": "triangle-up", "filled": true, "color": "#008080", "size": 150, "opacity": 1}},
    {"data": {"name": "o180707"}, "mark": {"type": "point", "shape": "M-1,0H1", "filled": false, "color": "#FF6600", "size": 160, "strokeWidth": 4, "opacity": 1}},
    {"data": {"name": "e0301"}, "mark": {"type": "point", "shape": "circle", "filled": true, "color": "#666699", "size": 95, "opacity": 1}},
    {"data": {"name": "m30"}, "mark": {"type": "point", "shape": "square", "filled": false, "color": "#00CCFF", "size": 140, "strokeWidth": 2, "opacity": 1}},
    {"data": {"name": "db"}, "mark": {"type": "point", "shape": "M-1,0H1M0,-1V1", "filled": false, "color": "#CC99FF", "size": 260, "strokeWidth": 1.6, "opacity": 1}},
    {"data": {"name": "sb"}, "mark": {"type": "point", "shape": "diamond", "filled": false, "color": "#008000", "size": 170, "strokeWidth": 2, "opacity": 1}},
    {"data": {"name": "cab"}, "mark": {"type": "point", "shape": "M-1,-1L1,1M-1,1L1,-1M0,-1V1", "filled": false, "color": "#800080", "size": 220, "strokeWidth": 1.9, "opacity": 1}},
    {"data": {"name": "labels"}, "mark": {"type": "text", "fontSize": 35, "font": "Liberation Sans", "align": "center", "baseline": "middle"},
      "encoding": {"text": {"field": "label"}, "color": {"field": "c", "type": "nominal", "scale": null}}}
  ]
}
